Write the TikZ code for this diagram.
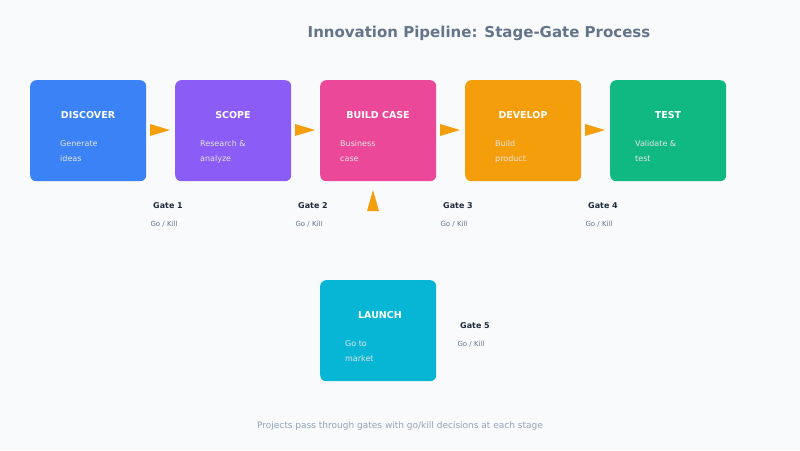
\documentclass[tikz,border=0pt]{standalone}
\usepackage{fontspec}
\setmainfont{DejaVu Sans}
\usetikzlibrary{positioning}
\definecolor{bgc}{HTML}{F8FAFC}
\definecolor{titlec}{HTML}{64748B}
\definecolor{darkc}{HTML}{1E293B}
\definecolor{footc}{HTML}{94A3B8}
\definecolor{arrowc}{HTML}{F59E0B}
\definecolor{c1}{HTML}{3B82F6}
\definecolor{c2}{HTML}{8B5CF6}
\definecolor{c3}{HTML}{EC4899}
\definecolor{c4}{HTML}{F59E0B}
\definecolor{c5}{HTML}{10B981}
\definecolor{c6}{HTML}{06B6D4}
\tikzset{
  stagebox/.style={rounded corners=6pt, minimum width=116pt, minimum height=101pt, inner sep=0pt},
  stagename/.style={text=white, font=\bfseries\fontsize{9.5}{11}\selectfont},
  stagesub/.style={text=white!90!black, font=\fontsize{8}{15}\selectfont, align=left, anchor=north west, inner sep=0pt},
  gatename/.style={text=darkc, font=\bfseries\fontsize{8}{10}\selectfont},
  gatesub/.style={text=titlec, font=\fontsize{7}{9}\selectfont},
  tri/.style={fill=arrowc}
}
\begin{document}
\begin{tikzpicture}[x=1pt,y=-1pt]
  \fill[bgc] (0,0) rectangle (800,450);
  \node[text=titlec, font=\bfseries\fontsize{15}{18}\selectfont] (title) at (479,33) {Innovation Pipeline: Stage-Gate Process};
  % Stages
  \foreach \i/\x/\c/\name/\sx/\subtext in {1/30/c1/DISCOVER/60/{Generate\\ideas},
      2/175/c2/SCOPE/200/{Research \&\\analyze},
      3/320/c3/BUILD CASE/340/{Business\\case},
      4/465/c4/DEVELOP/495/{Build\\product},
      5/610/c5/TEST/635/{Validate \&\\test}} {
    \node[stagebox, fill=\c, anchor=north west] (s\i) at (\x,80) {};
    \node[stagename] (n\i) at (\x+58,115) {\name};
    \node[stagesub] (t\i) at (\sx,140) {\subtext};
  }
  \node[stagebox, fill=c6, anchor=north west] (s6) at (320,280) {};
  \node[stagename] (n6) at (380,315) {LAUNCH};
  \node[stagesub] (t6) at (345,340) {Go to\\market};
  % Gates
  \foreach \i/\x in {1/168,2/313,3/458,4/603} {
    \node[gatename] (g\i) at (\x,206) {Gate \i};
    \node[gatesub] (k\i) at (\x-4,224) {Go / Kill};
  }
  \node[gatename] (g5) at (475,326) {Gate 5};
  \node[gatesub] (k5) at (471,344) {Go / Kill};
  % Arrows
  \foreach \x in {150,295,440,585}
    \fill[tri] (\x,124) -- (\x+20,130) -- (\x,136) -- cycle;
  \coordinate (up) at (373,190);
  \fill[tri] (up) -- (379,211) -- (367,211) -- cycle;
  \node[text=footc, font=\fontsize{9}{11}\selectfont] (foot) at (400,426) {Projects pass through gates with go/kill decisions at each stage};
\end{tikzpicture}
\end{document}
